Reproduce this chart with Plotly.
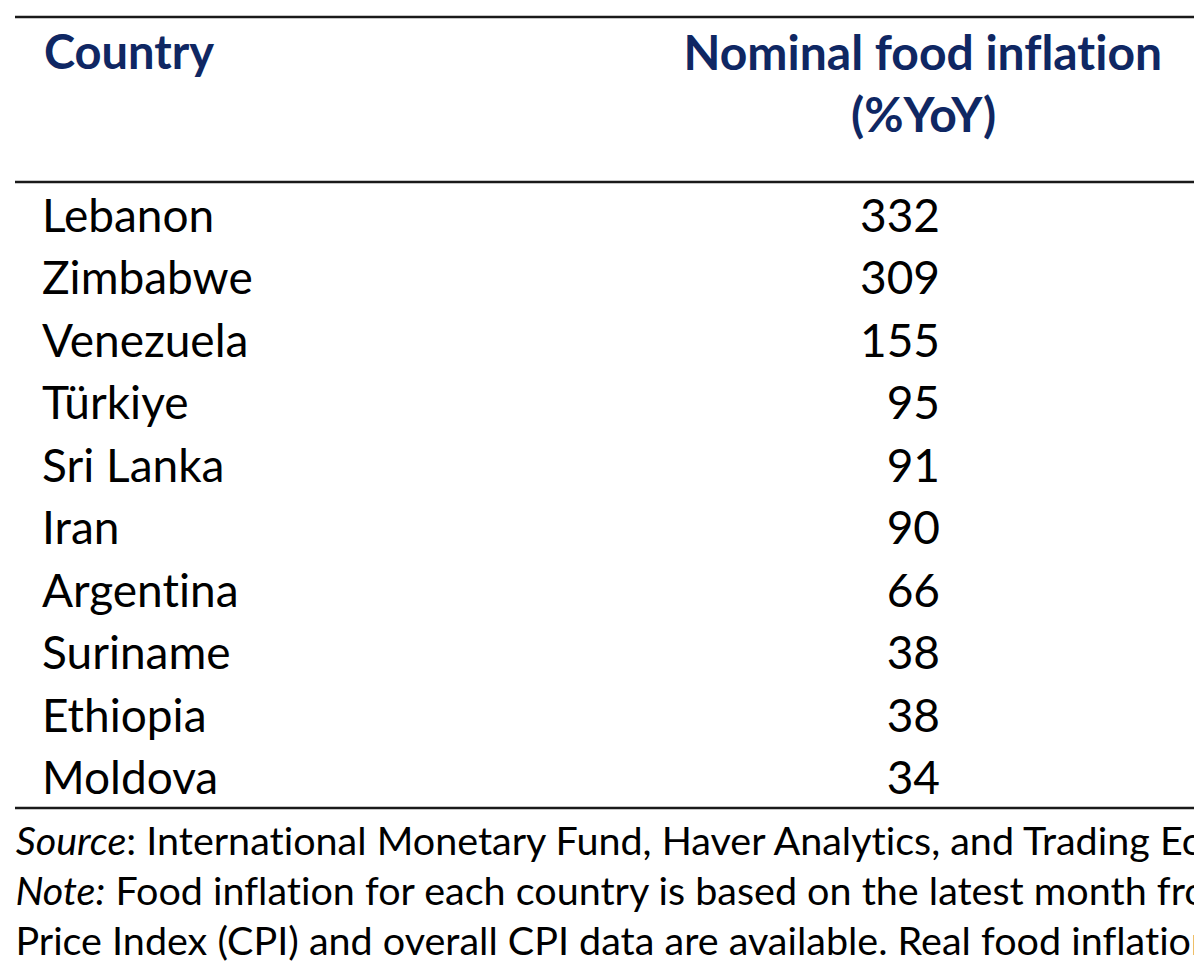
import plotly.graph_objects as go

# table contents
countries = ["Lebanon", "Zimbabwe", "Venezuela", "Türkiye", "Sri Lanka",
             "Iran", "Argentina", "Suriname", "Ethiopia", "Moldova"]
food_inflation = [332, 309, 155, 95, 91, 90, 66, 38, 38, 34]

header_country = "Country"
header_value = ["Nominal food inflation", "(%YoY)"]
footnotes = [
    "<i>Source</i>: International Monetary Fund, Haver Analytics, and Trading Economics.",
    "<i>Note:</i> Food inflation for each country is based on the latest month from",
    "Price Index (CPI) and overall CPI data are available. Real food inflation",
]

W, H = 1194, 975
FONT = "Lato"
NAVY = "#0f2763"
row_top = 220      # pixel centre of first row
row_step = 62.5    # pixels per row

rows = list(range(len(countries)))

fig = go.Figure()

# country names (left column)
fig.add_trace(go.Scatter(
    x=[42] * len(countries), y=rows, mode="text",
    text=countries, textposition="middle right",
    textfont=dict(family=FONT, size=46, color="black"),
    hoverinfo="skip", showlegend=False,
))

# values (right aligned)
fig.add_trace(go.Scatter(
    x=[940] * len(food_inflation), y=rows, mode="text",
    text=[str(v) for v in food_inflation], textposition="middle left",
    textfont=dict(family=FONT, size=46, color="black"),
    hoverinfo="skip", showlegend=False,
))

def px_to_row(py):
    return (py - row_top) / row_step

# horizontal rules
for py in [17, 182, 808]:
    fig.add_shape(type="line", xref="x", yref="y",
                  x0=15, x1=W + 5, y0=px_to_row(py), y1=px_to_row(py),
                  line=dict(color="#1a1a1a", width=2.5))

# headers
fig.add_annotation(x=42, y=px_to_row(51), xref="x", yref="y",
                   text="<b>%s</b>" % header_country, showarrow=False,
                   xanchor="left", yanchor="middle",
                   font=dict(family=FONT, size=47, color=NAVY))
for i, line in enumerate(header_value):
    fig.add_annotation(x=923, y=px_to_row(51 + i * 62), xref="x", yref="y",
                       text="<b>%s</b>" % line, showarrow=False,
                       xanchor="center", yanchor="middle",
                       font=dict(family=FONT, size=48, color=NAVY))

# footnotes
for i, line in enumerate(footnotes):
    fig.add_annotation(x=13, y=px_to_row(839 + i * 50), xref="x", yref="y",
                       text=line, showarrow=False,
                       xanchor="left", yanchor="middle",
                       font=dict(family=FONT, size=39.5, color="black"))

fig.update_layout(
    width=W, height=H,
    margin=dict(l=0, r=0, t=0, b=0),
    paper_bgcolor="white", plot_bgcolor="white",
    xaxis=dict(range=[0, W], visible=False, fixedrange=True),
    yaxis=dict(range=[px_to_row(H), px_to_row(0)], visible=False, fixedrange=True),
)

# no page margin, no "ti" ligatures
post = """
document.body.style.margin = '0';
var st = document.createElement('style');
st.innerHTML = 'text { font-variant-ligatures: none !important; font-feature-settings: "liga" 0 !important; }';
document.head.appendChild(st);
"""
fig.write_html("out.html", post_script=post, config={"displayModeBar": False})
